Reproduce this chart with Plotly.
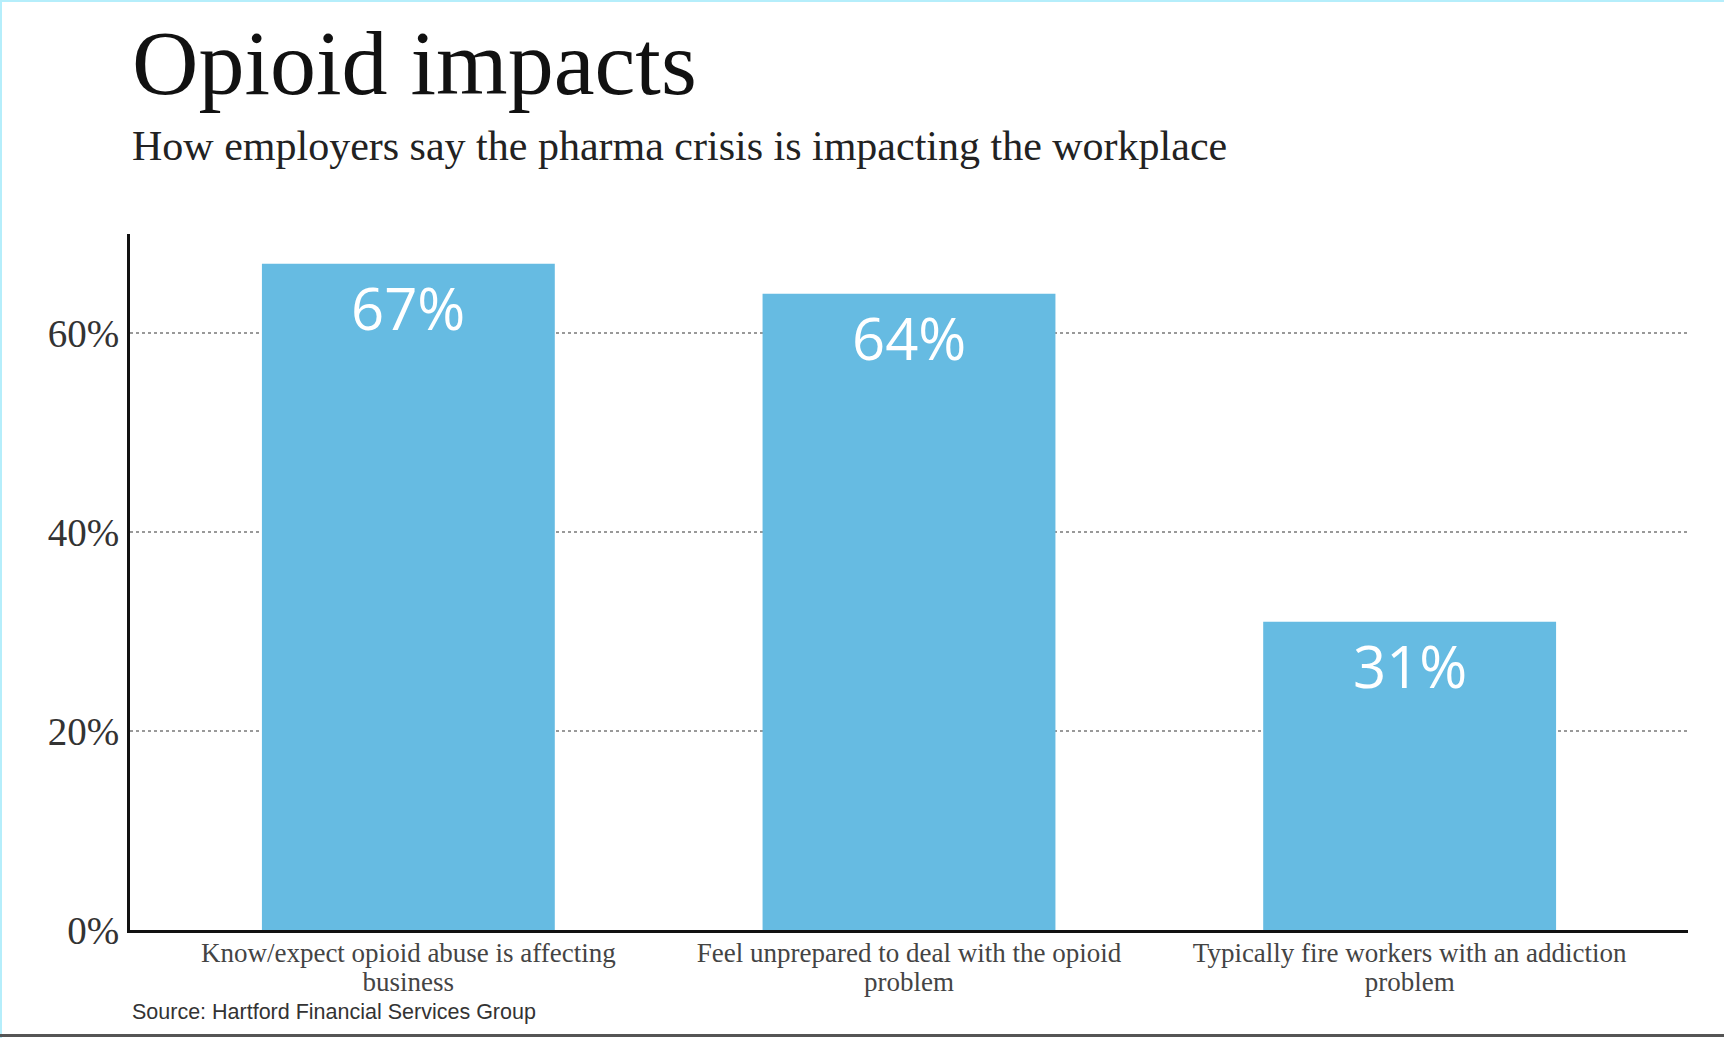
import plotly.graph_objects as go

categories = [
    "Know/expect opioid abuse is affecting<br>business",
    "Feel unprepared to deal with the opioid<br>problem",
    "Typically fire workers with an addiction<br>problem",
]
values = [67, 64, 31]
y_ticks = [0, 20, 40, 60]
y_tick_labels = ["0%", "20%", "40%", "60%"]
title_text = "Opioid impacts"
subtitle_text = "How employers say the pharma crisis is impacting the workplace"
source_text = "Source: Hartford Financial Services Group"

SERIF = "Georgia, 'Liberation Serif', serif"
BAR = "#66BBE2"

W, H = 1724, 1038
L, R, T, B = 130, 36, 234, 108
PW, PH = W - L - R, H - T - B

def px_to_py(y):
    return (H - B - y) / PH

def px_to_px(x):
    return (x - L) / PW

def big(label):
    return "<br>".join(f"<span style='font-size:27px'>{part}</span>" for part in label.split("<br>"))

fig = go.Figure()
fig.add_trace(go.Bar(
    x=categories, y=values, width=0.585,
    marker=dict(color=BAR, line=dict(width=0)),
    hoverinfo="skip",
))

annotations = []
for c, v in zip(categories, values):
    annotations.append(dict(
        x=c, y=v, xref="x", yref="y", text=f"{v}%", showarrow=False,
        yanchor="middle", yshift=-44,
        font=dict(family="'Open Sans', sans-serif", size=58, color="white", weight=400),
    ))

annotations += [
    dict(x=0, y=px_to_py(63), xref="paper", yref="paper", xanchor="left", yanchor="middle",
         text=title_text, showarrow=False, font=dict(family=SERIF, size=92, color="#111")),
    dict(x=0, y=px_to_py(146), xref="paper", yref="paper", xanchor="left", yanchor="middle",
         text=subtitle_text, showarrow=False, font=dict(family=SERIF, size=42, color="#222")),
    dict(x=0, y=px_to_py(1012), xref="paper", yref="paper", xanchor="left", yanchor="middle",
         text=source_text, showarrow=False, font=dict(family="'Liberation Sans', Arial, sans-serif", size=21.5, color="#333")),
]

shapes = [
    dict(type="line", xref="paper", yref="paper", x0=px_to_px(0), x1=px_to_px(W),
         y0=px_to_py(1), y1=px_to_py(1), line=dict(color="#B5EEFB", width=2)),
    dict(type="line", xref="paper", yref="paper", x0=px_to_px(1), x1=px_to_px(1),
         y0=px_to_py(0), y1=px_to_py(H), line=dict(color="#B5EEFB", width=2)),
    dict(type="line", xref="paper", yref="paper", x0=px_to_px(0), x1=px_to_px(W),
         y0=px_to_py(1035.5), y1=px_to_py(1035.5), line=dict(color="#555", width=3)),
]

fig.update_layout(
    width=W, height=H,
    margin=dict(l=L, r=R, t=T, b=B, autoexpand=False),
    paper_bgcolor="white", plot_bgcolor="white",
    showlegend=False,
    annotations=annotations, shapes=shapes,
    xaxis=dict(
        type="category", range=[-0.556, 2.556],
        tickmode="array", tickvals=categories, ticktext=[big(c) for c in categories],
        showline=True, linecolor="#111", linewidth=3,
        showgrid=False, ticks="", zeroline=False, ticklabelstandoff=3,
        tickfont=dict(family=SERIF, size=22, color="#444"),
        fixedrange=True,
    ),
    yaxis=dict(
        range=[0, 70], tickmode="array", tickvals=y_ticks, ticktext=y_tick_labels,
        showline=True, linecolor="#111", linewidth=3,
        showgrid=True, gridcolor="#999", gridwidth=2, griddash="dot",
        zeroline=False, ticks="", ticklabelstandoff=0,
        tickfont=dict(family=SERIF, size=39, color="#333"),
        fixedrange=True,
    ),
)

fig.write_html("out.html", config={"displayModeBar": False},
               post_script="document.body.style.margin='0';document.body.style.overflow='hidden';")
